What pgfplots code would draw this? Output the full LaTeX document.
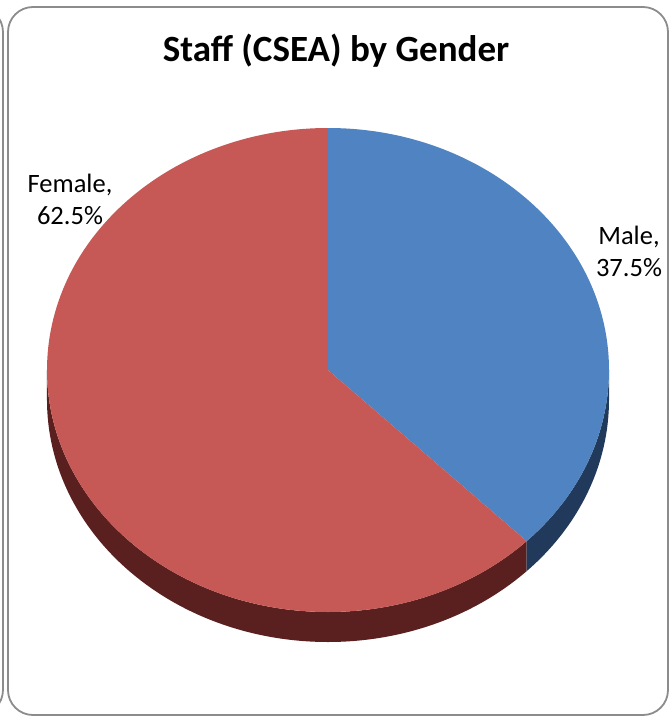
\documentclass[border=0pt]{standalone}
\usepackage{pgfplots}
\pgfplotsset{compat=1.18}
\usepackage{pgfplotstable}
\usepackage{fontspec}
\setmainfont{Carlito}

\definecolor{maletop}{HTML}{5083C1}
\definecolor{maleside}{HTML}{21395A}
\definecolor{femtop}{HTML}{C65955}
\definecolor{femside}{HTML}{5A201F}
\definecolor{frame}{HTML}{8C8C8C}

% share of staff, in percent
\pgfplotstableread{
gender value
Male   37.5
Female 62.5
}\gendertable

\pgfplotstablegetelem{0}{value}\of\gendertable
\let\malepct\pgfplotsretval
\pgfplotstablegetelem{1}{value}\of\gendertable
\let\fempct\pgfplotsretval

% pie starts at 12 o'clock and runs clockwise
\pgfmathsetmacro\splitang{90-3.6*\malepct}
\pgfmathsetmacro\endang{\splitang-3.6*\fempct}

\begin{document}
\begin{tikzpicture}
\begin{axis}[
    scale only axis,
    width=669pt, height=717pt,
    xmin=0, xmax=669, ymin=0, ymax=717,
    y dir=reverse,
    hide axis,
    clip=false,
]
\coordinate (SW) at (axis cs:0,717);
\coordinate (NE) at (axis cs:669,0);

% frames: this chart and the edge of the one beside it
\draw[frame, line width=1.8pt, rounded corners=25pt] (axis cs:8,7) rectangle (axis cs:668,715);
\draw[frame, line width=1.8pt, rounded corners=25pt] (axis cs:-400,7) rectangle (axis cs:3,715);

% side of the pie (front half only)
\fill[femside] (axis cs:328,370) ++(180:281pt and 242pt)
    arc[start angle=180, end angle=360+\splitang, x radius=281pt, y radius=242pt]
    -- ++(0,-30pt)
    arc[start angle=360+\splitang, end angle=180, x radius=281pt, y radius=242pt] -- cycle;
\fill[maleside] (axis cs:328,370) ++(\splitang:281pt and 242pt)
    arc[start angle=\splitang, end angle=0, x radius=281pt, y radius=242pt]
    -- ++(0,-30pt)
    arc[start angle=0, end angle=\splitang, x radius=281pt, y radius=242pt] -- cycle;

% top faces
\fill[maletop] (axis cs:328,370) -- ++(90:281pt and 242pt)
    arc[start angle=90, end angle=\splitang, x radius=281pt, y radius=242pt] -- cycle;
\fill[femtop] (axis cs:328,370) -- ++(\splitang:281pt and 242pt)
    arc[start angle=\splitang, end angle=\endang, x radius=281pt, y radius=242pt] -- cycle;

% title and labels
\node[font=\fontsize{37}{44}\selectfont\bfseries] at (axis cs:336,51) {Staff (CSEA) by Gender};
\node[font=\fontsize{26.5}{32}\selectfont, align=center] at (axis cs:70,199) {Female,\\62.5\%};
\node[font=\fontsize{26.5}{32}\selectfont, align=center] at (axis cs:629,251) {Male,\\37.5\%};
\end{axis}
\pgfresetboundingbox
\path[use as bounding box] (SW) rectangle (NE);
\end{tikzpicture}
\end{document}
